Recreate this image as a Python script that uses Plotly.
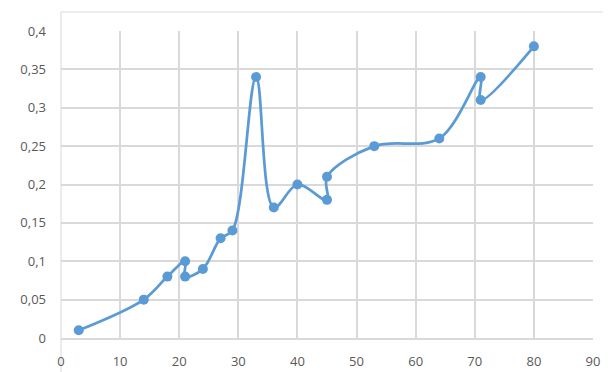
import plotly.graph_objects as go

x_vals = [3, 14, 18, 21, 21, 24, 27, 29, 33, 36, 40, 45, 45, 53, 64, 71, 71, 80]
y_vals = [0.01, 0.05, 0.08, 0.10, 0.08, 0.09, 0.13, 0.14, 0.34, 0.17, 0.20, 0.18, 0.21, 0.25, 0.26, 0.34, 0.31, 0.38]

x_ticks = [0, 10, 20, 30, 40, 50, 60, 70, 80, 90]
y_ticks = [0, 0.05, 0.1, 0.15, 0.2, 0.25, 0.3, 0.35, 0.4]
y_tick_text = ["0", "0,05", "0,1", "0,15", "0,2", "0,25", "0,3", "0,35", "0,4"]

color = "#5B9BD5"
grid = "#D9D9D9"
fontc = "#595959"

fig = go.Figure()
fig.add_trace(go.Scatter(
    x=x_vals, y=y_vals, mode="lines+markers",
    line=dict(color=color, width=2.75, shape="spline", smoothing=1),
    marker=dict(color=color, size=10),
    showlegend=False, cliponaxis=False,
))

# page body has an 8px margin, so the figure is shrunk/shifted accordingly
fig.update_layout(
    width=603, height=364,
    margin=dict(l=53, r=18, t=23, b=34, autoexpand=False),
    paper_bgcolor="white", plot_bgcolor="white",
    font=dict(family="Open Sans, Liberation Sans, sans-serif", size=13, color=fontc),
    shapes=[dict(type="rect", xref="paper", yref="paper",
                 x0=0, x1=1.2, y0=-0.3, y1=1 + 19/307,
                 line=dict(color="#D9D9D9", width=1), layer="below")],
)
fig.update_xaxes(range=[0, 90], tickvals=x_ticks, ticktext=[str(v) for v in x_ticks],
                 showgrid=True, gridcolor=grid, gridwidth=1.5, automargin=False,
                 showline=True, linecolor=grid, linewidth=1.5, mirror=False,
                 zeroline=False, ticks="", ticklabelstandoff=11,
                 tickfont=dict(size=13, color=fontc))
fig.update_yaxes(range=[0, 0.4], tickvals=y_ticks, ticktext=y_tick_text,
                 showgrid=True, gridcolor=grid, gridwidth=1.5, automargin=False,
                 showline=False, zeroline=False, ticks="", ticklabelstandoff=14,
                 tickfont=dict(size=13, color=fontc))

fig.write_html("out.html")
